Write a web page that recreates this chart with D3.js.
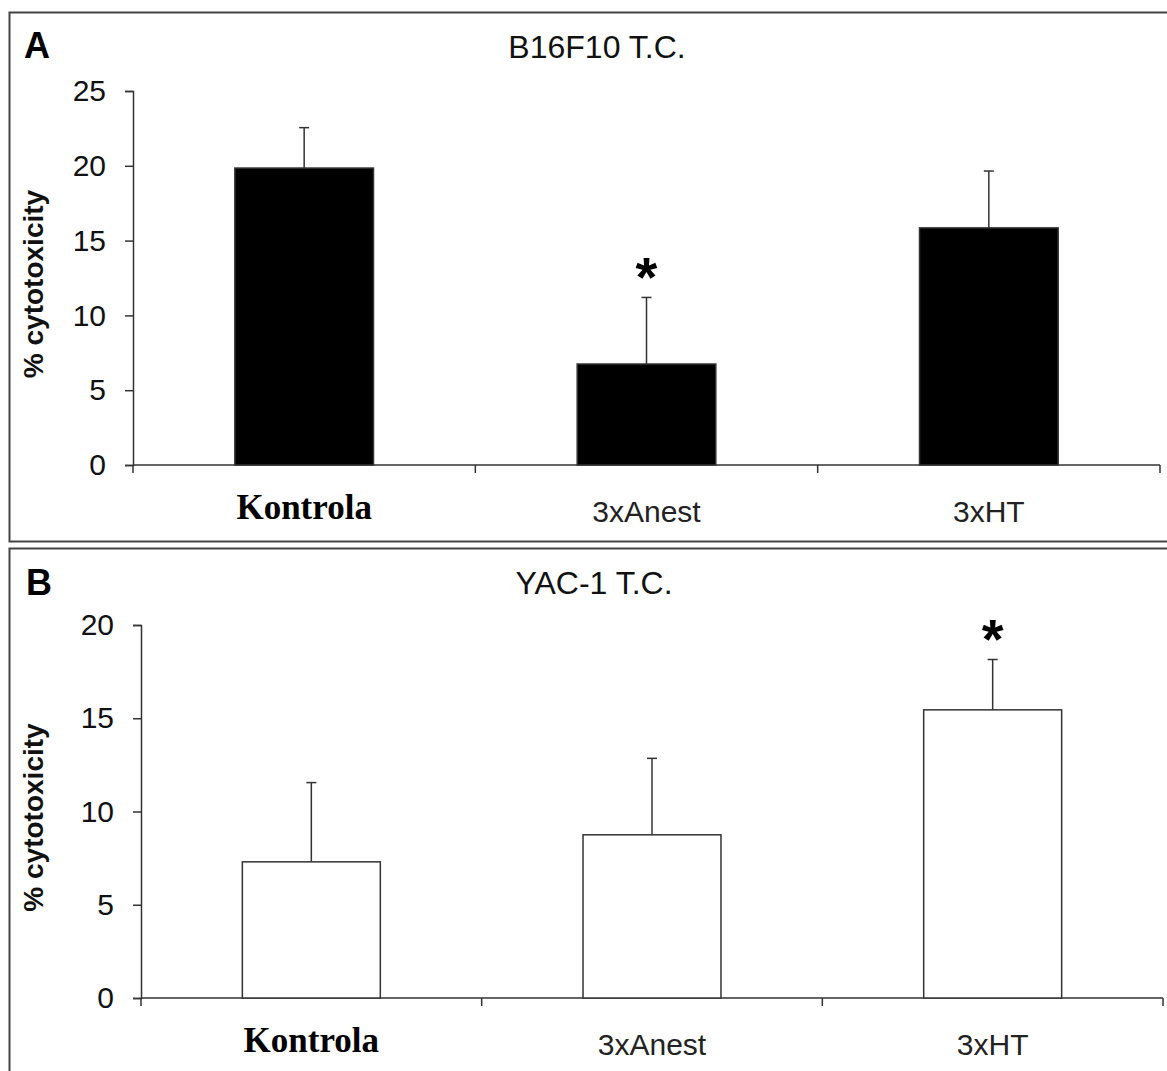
<!DOCTYPE html>
<html>
<head>
<meta charset="utf-8">
<script src="https://cdn.jsdelivr.net/npm/d3@7"></script>
<style>
  body { margin: 0; background: #fff; }
  svg { display: block; }
</style>
</head>
<body>
<div id="chart"></div>
<script>
// Kategorien und Werte
const categories = ["Kontrola", "3xAnest", "3xHT"];

const valuesA = [19.85, 6.75, 15.85];
const errorsA = [2.7, 4.45, 3.8];
const starA = [false, true, false];
const ticksA = [0, 5, 10, 15, 20, 25];

const valuesB = [7.3, 8.75, 15.45];
const errorsB = [4.25, 4.1, 2.7];
const starB = [false, false, true];
const ticksB = [0, 5, 10, 15, 20];

const width = 1167;
const height = 1071;

const sans = "Liberation Sans, Arial, sans-serif";
const serif = "Liberation Serif, Times New Roman, serif";

const svg = d3.select("#chart")
    .append("svg")
    .attr("width", width)
    .attr("height", height);

// Rahmen der beiden Teilbilder
svg.append("rect")
    .attr("x", 9.5).attr("y", 12.5)
    .attr("width", 1170).attr("height", 529)
    .attr("fill", "none").attr("stroke", "#444").attr("stroke-width", 2);
svg.append("rect")
    .attr("x", 9.5).attr("y", 548.5)
    .attr("width", 1170).attr("height", 540)
    .attr("fill", "none").attr("stroke", "#444").attr("stroke-width", 2);

function panel(opt) {
    const g = svg.append("g");

    const x = d3.scaleBand()
        .domain(categories)
        .range([opt.x0, opt.x1])
        .paddingInner(0)
        .paddingOuter(0);

    const y = d3.scaleLinear()
        .domain([0, opt.max])
        .range([opt.y0, opt.y1]);

    const barW = x.bandwidth() * 0.405;

    // Buchstabe
    g.append("text")
        .attr("x", opt.letterX).attr("y", opt.letterY)
        .attr("font-family", sans)
        .attr("font-weight", "bold").attr("font-size", 36)
        .attr("fill", "#000")
        .text(opt.letter);

    // Titel
    g.append("text")
        .attr("x", opt.titleX).attr("y", opt.titleY)
        .attr("text-anchor", "middle")
        .attr("font-family", sans)
        .attr("font-size", 32).attr("fill", "#111")
        .text(opt.title);

    // y-Achse
    const yAxis = d3.axisLeft(y)
        .tickValues(opt.ticks)
        .tickSize(8)
        .tickPadding(19)
        .tickFormat(d3.format("d"));
    const ya = g.append("g")
        .attr("transform", `translate(${opt.x0},0)`)
        .call(yAxis);
    ya.select(".domain").attr("stroke", "#333").attr("stroke-width", 1.5);
    ya.selectAll(".tick line").attr("stroke", "#333").attr("stroke-width", 1.5);
    ya.selectAll(".tick text")
        .attr("font-family", sans)
        .attr("font-size", 30).attr("fill", "#111");

    // y-Achsenbeschriftung
    g.append("text")
        .attr("transform", `translate(${opt.labelX},${(opt.y0 + opt.y1) / 2 + 6}) rotate(-90)`)
        .attr("text-anchor", "middle")
        .attr("font-family", sans)
        .attr("font-weight", "bold").attr("font-size", 28)
        .attr("fill", "#111")
        .text("% cytotoxicity");

    // x-Achse mit Trennstrichen zwischen den Kategorien
    g.append("line")
        .attr("x1", opt.x0).attr("x2", opt.x1)
        .attr("y1", y(0)).attr("y2", y(0))
        .attr("stroke", "#333").attr("stroke-width", 1.5);
    const bounds = categories.map(c => x(c)).concat([x(categories[categories.length - 1]) + x.bandwidth()]);
    g.selectAll(".xtick")
        .data(bounds)
        .enter()
        .append("line")
        .attr("x1", d => d).attr("x2", d => d)
        .attr("y1", y(0)).attr("y2", y(0) + 8)
        .attr("stroke", "#333").attr("stroke-width", 1.5);

    // Kategorienbeschriftungen
    g.selectAll(".xlab")
        .data(categories)
        .enter()
        .append("text")
        .attr("x", d => x(d) + x.bandwidth() / 2)
        .attr("y", (d, i) => i === 0 ? opt.catY - 3 : opt.catY)
        .attr("text-anchor", "middle")
        .attr("font-family", (d, i) => i === 0 ? serif : sans)
        .attr("font-weight", (d, i) => i === 0 ? "bold" : "normal")
        .attr("font-size", (d, i) => i === 0 ? 35 : 30)
        .attr("fill", (d, i) => i === 0 ? "#000" : "#222")
        .text(d => d);

    // Fehlerbalken
    g.selectAll(".err")
        .data(categories)
        .enter()
        .append("line")
        .attr("x1", d => x(d) + x.bandwidth() / 2)
        .attr("x2", d => x(d) + x.bandwidth() / 2)
        .attr("y1", (d, i) => y(opt.values[i]))
        .attr("y2", (d, i) => y(opt.values[i] + opt.errors[i]))
        .attr("stroke", "#333").attr("stroke-width", 1.5);
    g.selectAll(".cap")
        .data(categories)
        .enter()
        .append("line")
        .attr("x1", d => x(d) + x.bandwidth() / 2 - 5)
        .attr("x2", d => x(d) + x.bandwidth() / 2 + 5)
        .attr("y1", (d, i) => y(opt.values[i] + opt.errors[i]))
        .attr("y2", (d, i) => y(opt.values[i] + opt.errors[i]))
        .attr("stroke", "#333").attr("stroke-width", 1.5);

    // Balken
    g.selectAll(".bar")
        .data(categories)
        .enter()
        .append("rect")
        .attr("x", d => x(d) + (x.bandwidth() - barW) / 2)
        .attr("y", (d, i) => y(opt.values[i]))
        .attr("width", barW)
        .attr("height", (d, i) => y(0) - y(opt.values[i]))
        .attr("fill", opt.fill)
        .attr("stroke", "#333").attr("stroke-width", 1.5);

    // Signifikanzsterne
    const starSize = 56;
    g.selectAll(".star")
        .data(categories.filter((d, i) => opt.stars[i]))
        .enter()
        .append("text")
        .attr("x", d => x(d) + x.bandwidth() / 2)
        .attr("y", d => {
            const i = categories.indexOf(d);
            return y(opt.values[i] + opt.errors[i]) - 34 + 0.58 * starSize;
        })
        .attr("text-anchor", "middle")
        .attr("font-family", sans)
        .attr("font-weight", "bold").attr("font-size", starSize)
        .attr("fill", "#000")
        .text("*");
}

panel({
    letter: "A", letterX: 24, letterY: 58,
    title: "B16F10 T.C.", titleX: 597, titleY: 58,
    x0: 133, x1: 1160, y0: 465, y1: 91, max: 25,
    ticks: ticksA, labelX: 43, catY: 522,
    values: valuesA, errors: errorsA, stars: starA, fill: "#000"
});

panel({
    letter: "B", letterX: 26, letterY: 595,
    title: "YAC-1 T.C.", titleX: 594, titleY: 594,
    x0: 141, x1: 1163, y0: 998, y1: 625, max: 20,
    ticks: ticksB, labelX: 43, catY: 1055,
    values: valuesB, errors: errorsB, stars: starB, fill: "#fff"
});
</script>
</body>
</html>
